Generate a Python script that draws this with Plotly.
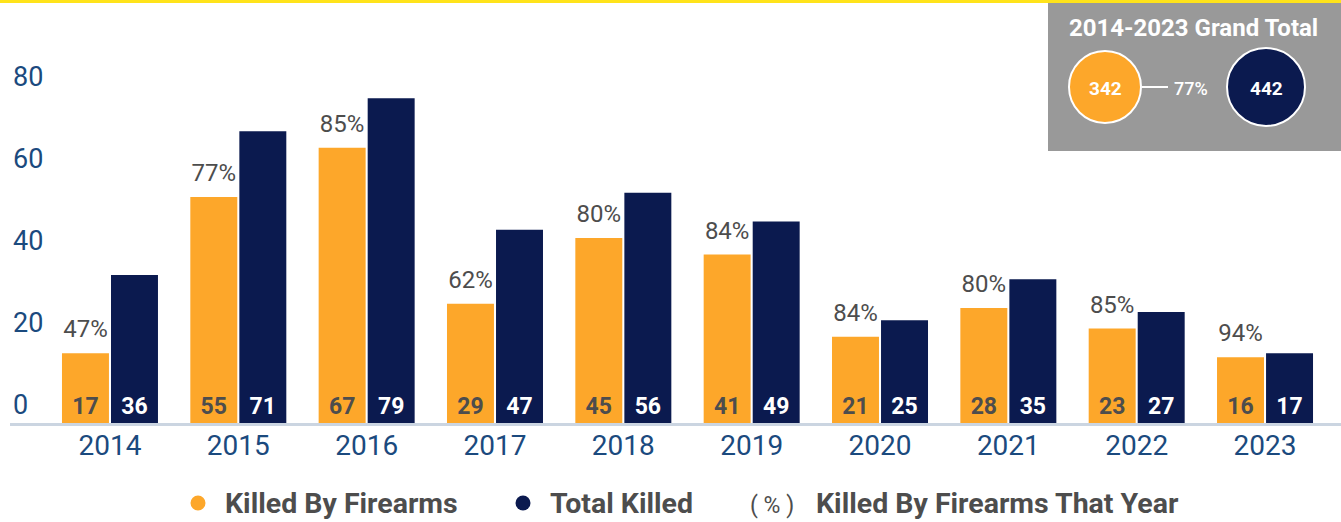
import plotly.graph_objects as go

years = ["2014", "2015", "2016", "2017", "2018", "2019", "2020", "2021", "2022", "2023"]
killed_by_firearms = [17, 55, 67, 29, 45, 41, 21, 28, 23, 16]
total_killed = [36, 71, 79, 47, 56, 49, 25, 35, 27, 17]
pct_labels = ["47%", "77%", "85%", "62%", "80%", "84%", "84%", "80%", "85%", "94%"]
y_ticks = [0, 20, 40, 60, 80]
grand_firearms = 342
grand_total = 442
grand_pct = "77%"

ORANGE = "#FDA72A"
NAVY = "#0B1A4F"
GRAY_TXT = "#4D4D4D"
TICK_BLUE = "#1B4A7E"
FONT = "Roboto"

W, H = 1341, 522
ML, MR, MT, MB = 10, 0, 12, 99
PW, PH = W - ML - MR, H - MT - MB


def px(x):
    return (x - ML) / PW


def py(y):
    return (H - MB - y) / PH


xs = list(range(len(years)))
BW = 0.366

fig = go.Figure()
fig.add_trace(go.Bar(
    x=xs, y=killed_by_firearms, name="Killed By Firearms",
    marker=dict(color=ORANGE, line=dict(width=0)),
    width=BW, offset=-0.374,
    text=[str(v) for v in killed_by_firearms], textposition="inside",
    insidetextanchor="start", textangle=0, constraintext="none",
    textfont=dict(family=FONT, size=23, color=GRAY_TXT, weight="bold"),
    hoverinfo="skip",
))
fig.add_trace(go.Bar(
    x=xs, y=total_killed, name="Total Killed",
    marker=dict(color=NAVY, line=dict(width=0)),
    width=BW, offset=0.008,
    text=[str(v) for v in total_killed], textposition="inside",
    insidetextanchor="start", textangle=0, constraintext="none",
    textfont=dict(family=FONT, size=23, color="white", weight="bold"),
    hoverinfo="skip",
))
fig.add_trace(go.Scatter(
    x=[i - 0.191 for i in xs], y=killed_by_firearms, mode="markers+text",
    marker=dict(size=14, color="rgba(0,0,0,0)"),
    text=pct_labels, textposition="top center",
    textfont=dict(family=FONT, size=24, color=GRAY_TXT),
    hoverinfo="skip", showlegend=False,
))

shapes = []
annotations = []
# yellow top line
shapes.append(dict(type="rect", xref="paper", yref="paper", x0=px(0), x1=px(W),
                   y0=py(3), y1=py(0), fillcolor="#FFE31A", line=dict(width=0), layer="above"))
# grand total box
shapes.append(dict(type="rect", xref="paper", yref="paper", x0=px(1048), x1=px(1341),
                   y0=py(151), y1=py(3), fillcolor="#999999", line=dict(width=0), layer="above"))
annotations.append(dict(xref="paper", yref="paper", x=px(1193), y=py(28), text="2014-2023 Grand Total",
                        showarrow=False, xanchor="center", yanchor="middle",
                        font=dict(family=FONT, size=24, color="white", weight="bold")))


def circle(cx, cy, r, color, lw=2, lc="white"):
    return dict(type="circle", xref="paper", yref="paper", x0=px(cx - r), x1=px(cx + r),
                y0=py(cy + r), y1=py(cy - r), fillcolor=color,
                line=dict(width=lw, color=lc), layer="above")


shapes.append(circle(1105, 87, 36, ORANGE))
shapes.append(circle(1266, 87, 39, NAVY))
shapes.append(dict(type="line", xref="paper", yref="paper", x0=px(1142), x1=px(1168),
                   y0=py(87), y1=py(87), line=dict(width=2, color="white"), layer="above"))
annotations.append(dict(xref="paper", yref="paper", x=px(1105), y=py(88), text=str(grand_firearms),
                        showarrow=False, xanchor="center", yanchor="middle",
                        font=dict(family=FONT, size=19, color="white", weight="bold")))
annotations.append(dict(xref="paper", yref="paper", x=px(1266), y=py(88), text=str(grand_total),
                        showarrow=False, xanchor="center", yanchor="middle",
                        font=dict(family=FONT, size=19, color="white", weight="bold")))
annotations.append(dict(xref="paper", yref="paper", x=px(1172), y=py(88), text=grand_pct,
                        showarrow=False, xanchor="left", yanchor="middle",
                        font=dict(family=FONT, size=18, color="white", weight=500)))

# legend
shapes.append(circle(198, 503, 7.5, ORANGE, lw=0, lc=ORANGE))
shapes.append(circle(523, 503, 7.5, NAVY, lw=0, lc=NAVY))
annotations.append(dict(xref="paper", yref="paper", x=px(223), y=py(503), text="Killed By Firearms",
                        showarrow=False, xanchor="left", yanchor="middle",
                        font=dict(family=FONT, size=28.5, color=GRAY_TXT, weight="bold")))
annotations.append(dict(xref="paper", yref="paper", x=px(548), y=py(503), text="Total Killed",
                        showarrow=False, xanchor="left", yanchor="middle",
                        font=dict(family=FONT, size=28.5, color=GRAY_TXT, weight="bold")))
annotations.append(dict(xref="paper", yref="paper", x=px(772), y=py(505), text="( % )",
                        showarrow=False, xanchor="center", yanchor="middle",
                        font=dict(family=FONT, size=23, color=GRAY_TXT)))
annotations.append(dict(xref="paper", yref="paper", x=px(814), y=py(503), text="Killed By Firearms That Year",
                        showarrow=False, xanchor="left", yanchor="middle",
                        font=dict(family=FONT, size=28.5, color=GRAY_TXT, weight="bold")))

fig.update_layout(
    width=W, height=H,
    margin=dict(l=ML, r=MR, t=MT, b=MB, pad=0),
    paper_bgcolor="white", plot_bgcolor="white",
    showlegend=False,
    barmode="overlay",
    shapes=shapes, annotations=annotations,
    xaxis=dict(range=[-0.779, 9.592], tickmode="array", tickvals=xs, ticktext=years,
               showgrid=False, zeroline=False, showline=True, linecolor="#CBD5E1", linewidth=3,
               ticks="", tickfont=dict(family=FONT, size=28, color=TICK_BLUE), ticklabelstandoff=-5),
    yaxis=dict(range=[0, 100], tickmode="array", tickvals=y_ticks, showgrid=False, zeroline=False,
               showline=False, ticks="", ticklabelposition="inside", ticklabelshift=-18,
               tickfont=dict(family=FONT, size=27, color=TICK_BLUE)),
    font=dict(family=FONT),
)

fig.write_html("out.html", config={"displayModeBar": False},
               post_script="document.body.style.margin='0';document.body.style.overflow='hidden';")
